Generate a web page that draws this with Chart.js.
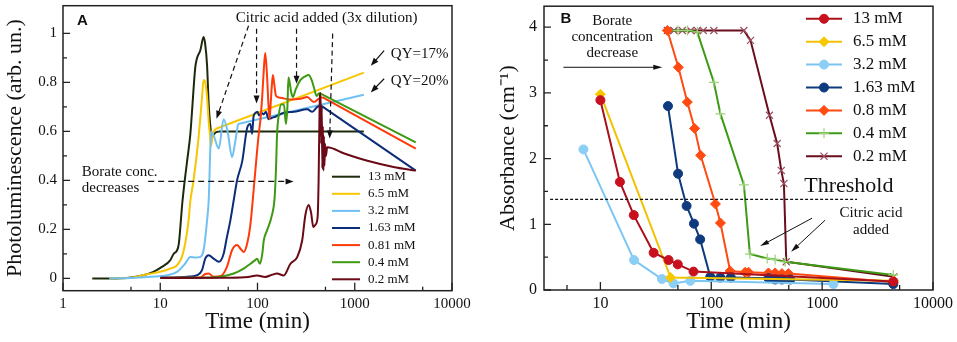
<!DOCTYPE html>
<html lang="en">
<head>
<meta charset="UTF-8">
<title>Photoluminescence and absorbance vs time</title>
<script src="https://cdn.jsdelivr.net/npm/chart.js"></script>
<style>
  body { margin: 0; background: #fff; }
  #wrap { position: relative; width: 957px; height: 342px; overflow: hidden; }
  canvas { position: absolute; top: 0; }
</style>
</head>
<body>
<div id="wrap">
  <canvas id="chartA" width="478" height="342" style="left:0"></canvas>
  <canvas id="chartB" width="480" height="342" style="left:477px"></canvas>
</div>
<script>
// ---------- Panel A : photoluminescence ----------
const labelsA = ['13 mM', '6.5 mM', '3.2 mM', '1.63 mM', '0.81 mM', '0.4 mM', '0.2 mM'];
const colorsA = ['#1c2a0c', '#f7c600', '#6ec1f2', '#0c2d78', '#ff3a0a', '#3d9a12', '#6a0a16'];
// the last segment of these series is a straight line on the plot
const straightTailA = [true, true, true, true, true, true, false];

const tA13 = [2, 3, 5, 6.7, 8.5, 10.4, 12.7, 13.7, 14.9, 15.5, 16.1, 16.7, 17.4, 18.9, 20.4, 21.2, 22.9, 23.9, 25.8, 27.9, 29, 30.3, 31.5, 33.2, 34, 36.9, 40, 1240];
const plA13 = [0, 0, 0.004, 0.013, 0.027, 0.047, 0.075, 0.1, 0.115, 0.14, 0.21, 0.29, 0.36, 0.48, 0.59, 0.68, 0.86, 0.9, 0.93, 0.985, 0.955, 0.87, 0.71, 0.6, 0.58, 0.595, 0.6, 0.6];

const tA65 = [3, 5, 7.3, 10, 12.7, 14.9, 16.7, 18, 19.6, 20.3, 22, 24.8, 26.9, 27.9, 29, 30.3, 31.5, 32.6, 33.2, 34.8, 36.9, 1240];
const plA65 = [0, 0.003, 0.017, 0.027, 0.04, 0.054, 0.088, 0.14, 0.24, 0.31, 0.4, 0.577, 0.74, 0.81, 0.8, 0.74, 0.64, 0.577, 0.54, 0.59, 0.61, 0.84];

const tA32 = [3, 5, 7.9, 11.7, 14.9, 18, 20.4, 22.9, 25.8, 27.9, 30.3, 31.5, 32.6, 33.4, 35.4, 40, 44.8, 49.3, 54.7, 59.3, 63, 1240];
const plA32 = [0, 0.002, 0.007, 0.013, 0.027, 0.06, 0.088, 0.085, 0.088, 0.115, 0.237, 0.32, 0.51, 0.6, 0.584, 0.53, 0.65, 0.6, 0.495, 0.563, 0.63, 0.75];

const tA163 = [10, 15, 20, 23.9, 26.9, 29, 31.5, 35.4, 40, 44.8, 48, 52.6, 57, 61.6, 69.8, 78.6, 84.5, 88, 91, 95, 100, 104, 110, 116, 122, 130, 140, 153, 187, 236, 325, 366, 412, 450, 4240];
const plA163 = [0.003, 0.005, 0.008, 0.013, 0.034, 0.081, 0.095, 0.081, 0.068, 0.1, 0.16, 0.237, 0.32, 0.4, 0.48, 0.617, 0.63, 0.59, 0.66, 0.675, 0.68, 0.665, 0.675, 0.67, 0.68, 0.65, 0.655, 0.66, 0.676, 0.68, 0.69, 0.68, 0.7, 0.705, 0.44];

const tA081 = [10, 20, 25.8, 29, 31.5, 35.4, 42, 48.5, 54.7, 61.6, 66.6, 72, 78, 84.5, 91.7, 98, 103, 107, 111.7, 116, 120, 125, 130, 133, 136, 140, 144, 149, 155, 172, 220, 276, 325, 380, 425, 464, 4240];
const plA081 = [0.002, 0.003, 0.004, 0.018, 0.02, 0.007, 0.01, 0.047, 0.115, 0.136, 0.122, 0.108, 0.14, 0.22, 0.37, 0.5, 0.59, 0.645, 0.74, 0.85, 0.92, 0.835, 0.7, 0.65, 0.7, 0.78, 0.83, 0.79, 0.745, 0.737, 0.73, 0.733, 0.74, 0.72, 0.733, 0.74, 0.53];

const tA04 = [10, 30, 41.6, 57, 72, 84.5, 95, 99, 106, 112, 116, 125, 141, 150, 155, 159, 166, 175, 187, 196, 203, 208, 214, 222, 232, 246, 277, 310, 336, 360, 380, 405, 430, 4240];
const plA04 = [0.002, 0.004, 0.007, 0.02, 0.04, 0.06, 0.075, 0.08, 0.06, 0.1, 0.155, 0.195, 0.26, 0.33, 0.45, 0.59, 0.67, 0.71, 0.71, 0.63, 0.7, 0.82, 0.8, 0.76, 0.74, 0.77, 0.81, 0.825, 0.83, 0.81, 0.78, 0.745, 0.757, 0.555];

const tA02 = [10, 50, 80, 99, 120, 141, 159, 186, 218, 256, 288, 311, 336, 355, 375, 395, 415, 425, 435, 445, 452, 458, 464, 470, 476, 482, 488, 495, 505, 521, 780, 1350, 2500, 4240];
const plA02 = [0.002, 0.003, 0.006, 0.012, 0.006, 0.015, 0.02, 0.012, 0.06, 0.087, 0.155, 0.26, 0.3, 0.27, 0.21, 0.22, 0.25, 0.4, 0.7, 0.757, 0.55, 0.7, 0.45, 0.62, 0.44, 0.58, 0.46, 0.55, 0.5, 0.535, 0.51, 0.48, 0.455, 0.44];

const xTicksA = [1, 10, 100, 1000, 10000];
const xTickLabelsA = ['1', '10', '100', '1000', '10000'];
const xMinorA = [5, 50, 500, 5000];
const yTicksA = [0, 0.2, 0.4, 0.6, 0.8, 1];
const yTickLabelsA = ['0', '0.2', '0.4', '0.6', '0.8', '1'];
const yMinorA = [0.1, 0.3, 0.5, 0.7, 0.9];

// ---------- Panel B : absorbance ----------
const labelsB = ['13 mM', '6.5 mM', '3.2 mM', '1.63 mM', '0.8 mM', '0.4 mM', '0.2 mM'];
const colorsB = ['#a8101c', '#f2c200', '#7cc6f2', '#0e3a7e', '#ff4a12', '#3c9a14', '#6a0d1c'];
const markerColorsB = ['#c8101e', '#f7c800', '#8ccff6', '#0e3a7e', '#ff4a12', '#9ed37c', '#9a5060'];
const markersB = ['circle', 'rectRot', 'circle', 'circle', 'rectRot', 'cross', 'crossRot'];

const tB13 = [10, 15, 20, 30.2, 41.2, 49.9, 69.2, 4385];
const abB13 = [2.89, 1.645, 1.14, 0.567, 0.456, 0.39, 0.28, 0.13];
const tB65 = [10, 43, 4385];
const abB65 = [2.98, 0.19, 0.14];
const tB32 = [7.03, 20.1, 35.9, 45.7, 64.7, 1265];
const abB32 = [2.14, 0.456, 0.167, 0.1, 0.14, 0.09];
const tB163 = [40.7, 50.2, 59.9, 69.8, 79.4, 98, 120.6, 150, 328, 377, 434, 516, 4385];
const abB163 = [2.8, 1.77, 1.28, 1.01, 0.77, 0.2, 0.19, 0.19, 0.18, 0.16, 0.16, 0.16, 0.09];
const tB08 = [40.2, 50.5, 60.8, 70.8, 80.2, 109, 121, 148, 202, 217, 328, 377, 434, 497, 4385];
const abB08 = [3.95, 3.39, 2.86, 2.46, 2.05, 1.31, 1.02, 0.29, 0.27, 0.27, 0.26, 0.26, 0.25, 0.25, 0.12];
const tB04 = [40.2, 50, 61, 74.8, 105.6, 121, 197, 223, 320, 377, 464, 4385];
const abB04 = [3.95, 3.95, 3.95, 3.93, 3.16, 2.68, 1.6, 0.547, 0.48, 0.466, 0.43, 0.23];
const tB02 = [40.2, 46.1, 54.8, 65.2, 74.8, 84.7, 105.6, 197, 226, 335, 393, 428, 452, 475, 4430];
const abB02 = [3.95, 3.95, 3.95, 3.95, 3.95, 3.95, 3.95, 3.95, 3.8, 2.66, 2.23, 1.82, 1.62, 0.43, 0.2];

const xTicksB = [10, 100, 1000, 10000];
const xTickLabelsB = ['10', '100', '1000', '10000'];
const xMinorB = [5, 50, 500, 5000];
const yTicksB = [0, 1, 2, 3, 4];
const yTickLabelsB = ['0', '1', '2', '3', '4'];
const yMinorB = [0.5, 1.5, 2.5, 3.5];

const SERIF = '"Liberation Serif", "Times New Roman", serif';
const SANS = '"Liberation Sans", Arial, sans-serif';

function zip(xs, ys) { return xs.map((x, i) => ({ x: x, y: ys[i] })); }

function arrow(ctx, x1, y1, x2, y2, s) {
    const ang = Math.atan2(y2 - y1, x2 - x1), c = Math.cos(ang), n = Math.sin(ang);
    const hl = s.head === undefined ? 8 : s.head, hw = s.headW || 6;
    ctx.strokeStyle = '#111';
    ctx.fillStyle = '#111';
    ctx.lineWidth = s.width || 1.2;
    ctx.setLineDash(s.dash || []);
    ctx.beginPath();
    ctx.moveTo(x1, y1);
    ctx.lineTo(x2 - c * hl * 0.7, y2 - n * hl * 0.7);
    ctx.stroke();
    ctx.setLineDash([]);
    if (hl > 0) {
        ctx.beginPath();
        ctx.moveTo(x2, y2);
        ctx.lineTo(x2 - c * hl - n * hw / 2, y2 - n * hl + c * hw / 2);
        ctx.lineTo(x2 - c * hl + n * hw / 2, y2 - n * hl - c * hw / 2);
        ctx.closePath();
        ctx.fill();
    }
}

// frame, inward ticks, annotations and legend
const decor = {
    id: 'decor',
    afterDatasetsDraw(chart, args, o) {
        const ctx = chart.ctx, a = chart.chartArea, xs = chart.scales.x, ys = chart.scales.y;
        const px = v => xs.getPixelForValue(v), py = v => ys.getPixelForValue(v);
        ctx.save();
        ctx.strokeStyle = '#222';
        ctx.lineWidth = 1.5;
        ctx.strokeRect(a.left, a.top, a.right - a.left, a.bottom - a.top);
        ctx.lineWidth = 1.3;
        ctx.beginPath();
        o.xMajor.forEach(v => { ctx.moveTo(px(v), a.bottom); ctx.lineTo(px(v), a.bottom - o.xMajLen); });
        o.xMinor.forEach(v => { ctx.moveTo(px(v), a.bottom); ctx.lineTo(px(v), a.bottom - o.xMinLen); });
        o.yMajor.forEach(v => { ctx.moveTo(a.left, py(v)); ctx.lineTo(a.left + o.yMajLen, py(v)); });
        o.yMinor.forEach(v => { ctx.moveTo(a.left, py(v)); ctx.lineTo(a.left + o.yMinLen, py(v)); });
        ctx.stroke();

        o.arrows.forEach(ar => arrow(ctx, px(ar.from[0]), py(ar.from[1]), px(ar.to[0]), py(ar.to[1]), ar));

        ctx.fillStyle = '#111';
        ctx.textBaseline = 'middle';
        o.texts.forEach(t => {
            ctx.font = t.font;
            ctx.textAlign = t.align || 'center';
            ctx.fillText(t.text, px(t.at[0]), py(t.at[1]));
        });

        const L = o.legend;
        chart.data.datasets.filter(ds => !ds.isTail).forEach((ds, i) => {
            const yy = a.top + L.top + i * L.step;
            ctx.strokeStyle = ds.borderColor;
            ctx.lineWidth = ds.borderWidth;
            ctx.beginPath();
            ctx.moveTo(a.left + L.x0, yy);
            ctx.lineTo(a.left + L.x1, yy);
            ctx.stroke();
            if (L.markers) {
                ctx.fillStyle = ds.pointBackgroundColor;
                ctx.strokeStyle = ds.pointBorderColor;
                ctx.lineWidth = ds.pointBorderWidth;
                Chart.helpers.drawPoint(ctx, { pointStyle: ds.pointStyle, radius: ds.pointRadius, rotation: 0, borderWidth: ds.pointBorderWidth }, a.left + (L.x0 + L.x1) / 2, yy);
            }
            ctx.fillStyle = '#111';
            ctx.font = L.font;
            ctx.textAlign = 'left';
            ctx.fillText(ds.label, a.left + L.tx, yy);
        });
        ctx.restore();
    }
};

function axes(cfg) {
    return {
        x: {
            type: 'logarithmic', min: cfg.xMin, max: cfg.xMax, position: 'bottom',
            grid: { display: false, drawTicks: false }, border: { display: false },
            afterBuildTicks: s => { s.ticks = cfg.xTicks.map(v => ({ value: v })); },
            afterFit: s => { s.height = cfg.xHeight; s.paddingLeft = 0; s.paddingRight = 0; },
            ticks: { autoSkip: false, maxRotation: 0, minRotation: 0, padding: cfg.xPad, color: '#111',
                     font: { family: SERIF, size: cfg.tickSize }, callback: (v, i) => cfg.xLabels[i] },
            title: { display: true, text: 'Time (min)', color: '#111',
                     font: { family: SERIF, size: 23, lineHeight: 1.2 }, padding: { top: 0, bottom: 6 } }
        },
        y: {
            type: 'linear', min: cfg.yMin, max: cfg.yMax,
            grid: { display: false, drawTicks: false }, border: { display: false },
            afterBuildTicks: s => { s.ticks = cfg.yTicks.map(v => ({ value: v })); },
            afterFit: s => { s.width = cfg.yWidth; s.paddingTop = 0; s.paddingBottom = 0; },
            ticks: { autoSkip: false, padding: cfg.yPad, color: '#111',
                     font: { family: SERIF, size: cfg.tickSize }, callback: (v, i) => cfg.yLabels[i] },
            title: { display: true, text: cfg.yTitle, color: '#111',
                     font: { family: SERIF, size: 22, lineHeight: 1.2 }, padding: { top: cfg.yTitlePad, bottom: 0 } }
        }
    };
}

// ---------- chart A ----------
const seriesA = [[tA13, plA13], [tA65, plA65], [tA32, plA32], [tA163, plA163], [tA081, plA081], [tA04, plA04], [tA02, plA02]];
const datasetsA = [];
seriesA.forEach((s, i) => {
    const pts = zip(s[0], s[1]);
    const base = { borderColor: colorsA[i], borderWidth: 2, pointRadius: 0, order: 6 - i };
    if (straightTailA[i]) {
        datasetsA.push(Object.assign({ label: labelsA[i], data: pts.slice(0, -1), cubicInterpolationMode: 'monotone' }, base));
        datasetsA.push(Object.assign({ label: labelsA[i], data: pts.slice(-2), tension: 0, isTail: true }, base));
    } else {
        datasetsA.push(Object.assign({ label: labelsA[i], data: pts, cubicInterpolationMode: 'monotone' }, base));
    }
});

new Chart(document.getElementById('chartA'), {
    type: 'line',
    data: { datasets: datasetsA },
    options: {
        responsive: false,
        animation: false,
        events: [],
        layout: { padding: { left: 0, right: 26, top: 5.7, bottom: 0 } },
        scales: axes({
            xMin: 1, xMax: 10000, xTicks: xTicksA, xLabels: xTickLabelsA, xHeight: 51.3, xPad: 4,
            yMin: -0.05, yMax: 1.113, yTicks: yTicksA, yLabels: yTickLabelsA, yWidth: 63, yPad: 6,
            tickSize: 15, yTitle: 'Photoluminescence (arb. un.)', yTitlePad: 2
        }),
        plugins: {
            legend: { display: false },
            tooltip: { enabled: false },
            decor: {
                xMajor: xTicksA, xMinor: xMinorA, yMajor: yTicksA, yMinor: yMinorA,
                xMajLen: 8, xMinLen: 4, yMajLen: 7, yMinLen: 4,
                arrows: [
                    { from: [80.9, 1.031], to: [37.9, 0.652], dash: [5, 3.5] },
                    { from: [97.8, 1.019], to: [97.8, 0.714], dash: [5, 3.5] },
                    { from: [252, 1.019], to: [252, 0.795], dash: [5, 3.5] },
                    { from: [593, 0.999], to: [552, 0.571], dash: [5, 3.5] },
                    { from: [7.52, 0.396], to: [235, 0.396], dash: [6, 4] },
                    { from: [2005, 0.93], to: [1462, 0.868] },
                    { from: [2005, 0.815], to: [1462, 0.759] }
                ],
                texts: [
                    { text: 'A', at: [1.39, 1.052], font: 'bold 15px ' + SANS, align: 'left' },
                    { text: 'Citric acid added (3x dilution)', at: [514, 1.064], font: '15px ' + SERIF },
                    { text: 'QY=17%', at: [2350, 0.917], font: '15px ' + SERIF, align: 'left' },
                    { text: 'QY=20%', at: [2350, 0.807], font: '15px ' + SERIF, align: 'left' },
                    { text: 'Borate conc.', at: [1.56, 0.433], font: '15px ' + SERIF, align: 'left' },
                    { text: 'decreases', at: [1.56, 0.368], font: '15px ' + SERIF, align: 'left' }
                ],
                legend: { x0: 269, x1: 297, tx: 305, top: 171, step: 17.1, font: '13px ' + SERIF, markers: false }
            }
        }
    },
    plugins: [decor]
});

// ---------- chart B ----------
const seriesB = [[tB13, abB13], [tB65, abB65], [tB32, abB32], [tB163, abB163], [tB08, abB08], [tB04, abB04], [tB02, abB02]];
new Chart(document.getElementById('chartB'), {
    type: 'line',
    data: {
        datasets: seriesB.map((s, i) => ({
            label: labelsB[i],
            data: zip(s[0], s[1]),
            borderColor: colorsB[i],
            borderWidth: 2,
            tension: 0,
            pointStyle: markersB[i],
            pointRadius: markersB[i] === 'circle' ? 4.5 : 5,
            pointBackgroundColor: markerColorsB[i],
            pointBorderColor: markerColorsB[i],
            pointBorderWidth: markersB[i].startsWith('cross') ? 1.2 : 1
        }))
    },
    options: {
        responsive: false,
        animation: false,
        events: [],
        layout: { padding: { left: 0, right: 24, top: 5.7, bottom: 0 } },
        scales: axes({
            xMin: 3.1, xMax: 10000, xTicks: xTicksB, xLabels: xTickLabelsB, xHeight: 52, xPad: 4.5,
            yMin: 0, yMax: 4.32, yTicks: yTicksB, yLabels: yTickLabelsB, yWidth: 67, yPad: 7,
            tickSize: 16, yTitle: 'Absorbance (cm\u207B\u00B9)', yTitlePad: 18.5
        }),
        plugins: {
            legend: { display: false },
            tooltip: { enabled: false },
            decor: {
                xMajor: xTicksB, xMinor: xMinorB, yMajor: yTicksB, yMinor: yMinorB,
                xMajLen: 8, xMinLen: 5, yMajLen: 7, yMinLen: 4,
                arrows: [
                    { from: [4.64, 3.39], to: [36.2, 3.39], width: 1, head: 9, headW: 5 },
                    { from: [3.52, 1.378], to: [2065, 1.378], width: 1.2, head: 0, dash: [3, 2] },
                    { from: [813, 1.094], to: [276, 0.668], width: 1, head: 9, headW: 5 },
                    { from: [1064, 1.063], to: [525, 0.582], width: 1, head: 9, headW: 5 }
                ],
                texts: [
                    { text: 'B', at: [4.36, 4.12], font: 'bold 15px ' + SANS, align: 'left' },
                    { text: 'Borate', at: [12.8, 4.1], font: '15px ' + SERIF },
                    { text: 'concentration', at: [12.8, 3.85], font: '15px ' + SERIF },
                    { text: 'decrease', at: [12.8, 3.6], font: '15px ' + SERIF },
                    { text: 'Threshold', at: [1740, 1.584], font: '22px ' + SERIF },
                    { text: 'Citric acid', at: [2760, 1.17], font: '15px ' + SERIF },
                    { text: 'added', at: [2760, 0.911], font: '15px ' + SERIF }
                ],
                legend: { x0: 262, x1: 298, tx: 309, top: 12.6, step: 22.9, font: '17px ' + SERIF, markers: true }
            }
        }
    },
    plugins: [decor]
});
</script>
</body>
</html>
